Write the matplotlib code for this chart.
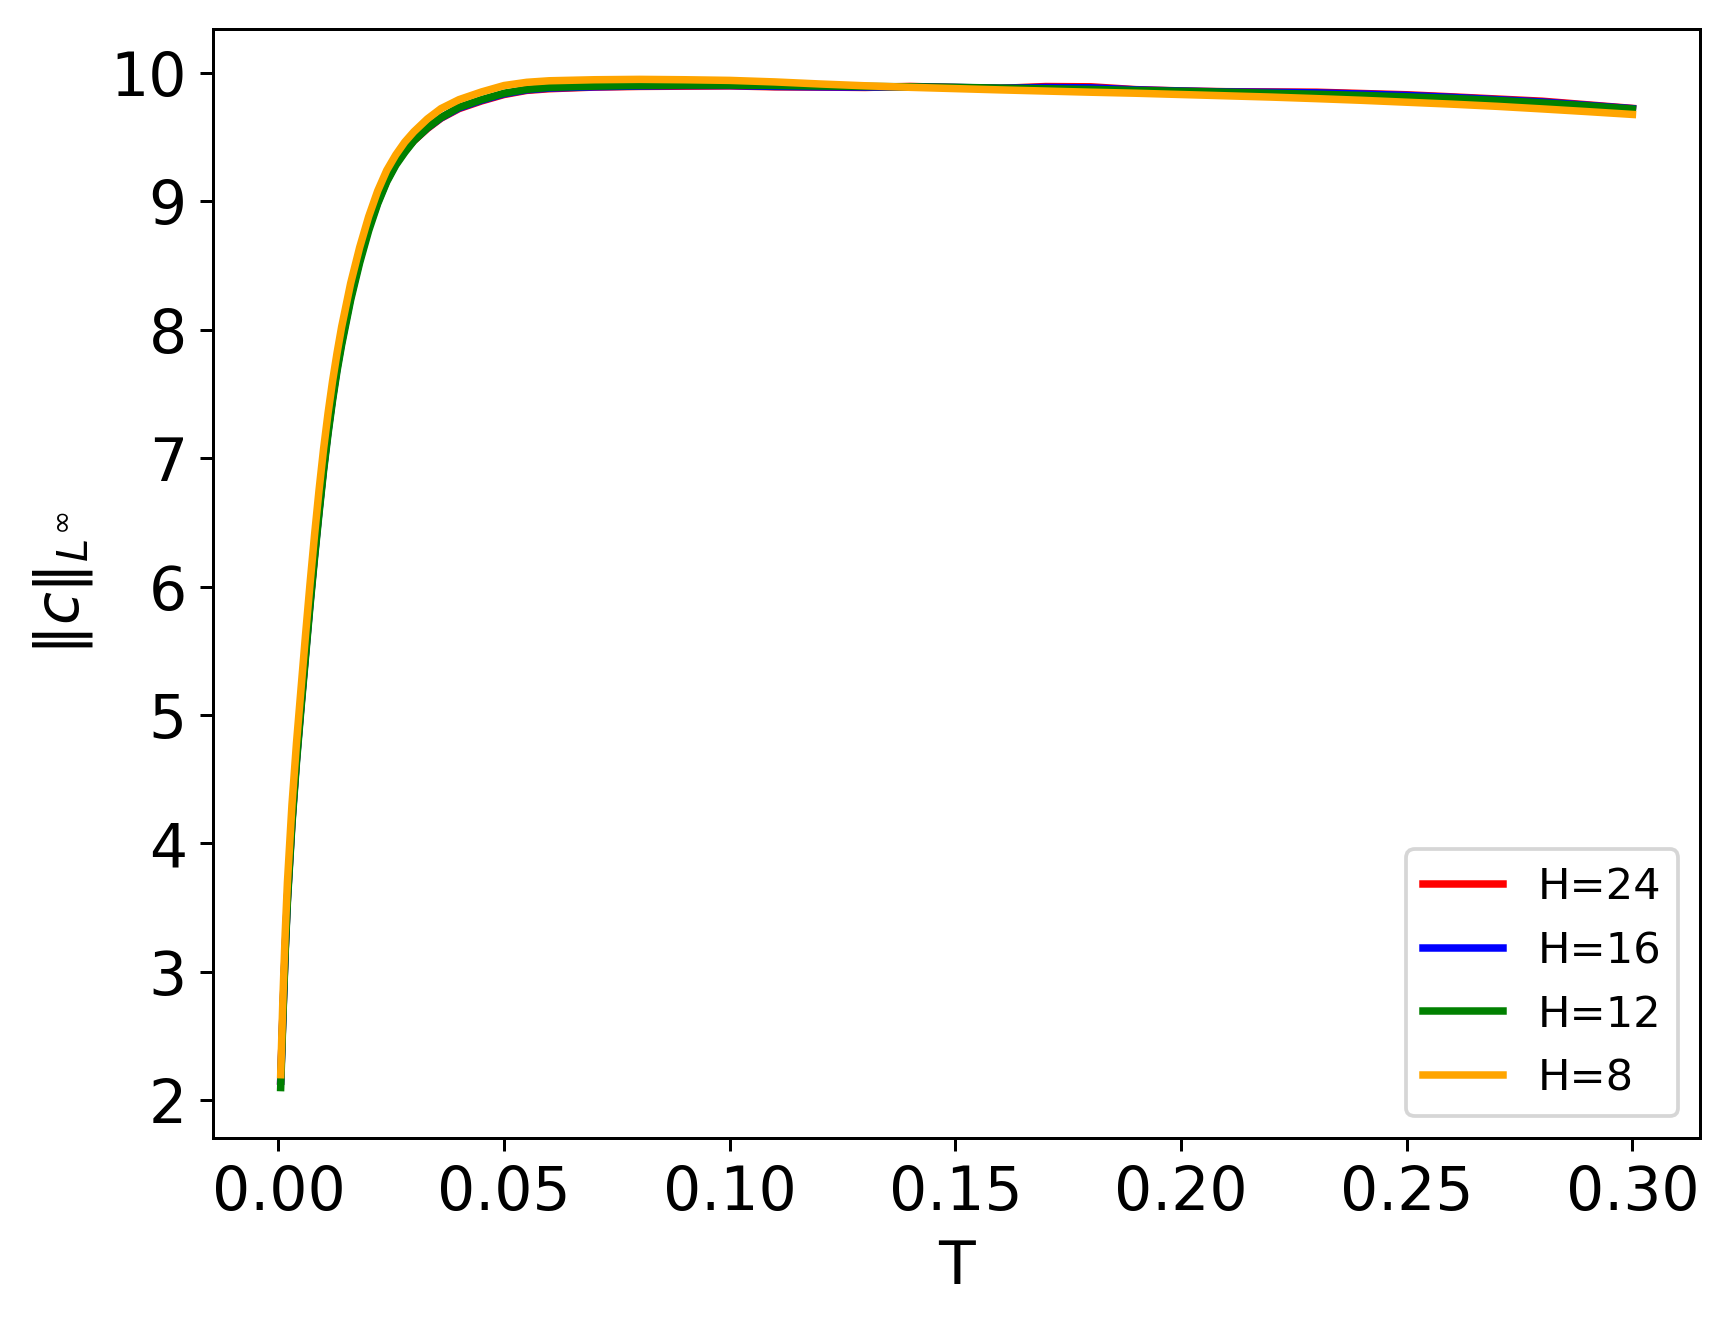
import matplotlib
matplotlib.use("Agg")
import matplotlib.pyplot as plt

T = [0.0005, 0.001, 0.0015, 0.002, 0.003, 0.004, 0.005, 0.006, 0.007, 0.008,
     0.009, 0.010, 0.011, 0.012, 0.013, 0.014, 0.016, 0.018, 0.020, 0.022,
     0.024, 0.026, 0.028, 0.030, 0.033, 0.036, 0.040, 0.045, 0.050, 0.055,
     0.06, 0.07, 0.08, 0.09, 0.10, 0.11, 0.12, 0.13, 0.14, 0.15, 0.16, 0.17,
     0.18, 0.19, 0.20, 0.21, 0.22, 0.23, 0.24, 0.25, 0.26, 0.27, 0.28, 0.29, 0.30]

H24 = [2.15, 2.68, 3.18, 3.58, 4.18, 4.66, 5.08, 5.48, 5.88, 6.25,
       6.60, 6.93, 7.22, 7.48, 7.71, 7.91, 8.26, 8.55, 8.80, 9.00,
       9.16, 9.29, 9.39, 9.47, 9.565, 9.645, 9.72, 9.78, 9.83, 9.862,
       9.875, 9.888, 9.893, 9.895, 9.897, 9.890, 9.888, 9.885, 9.893, 9.884, 9.878, 9.892,
       9.890, 9.868, 9.858, 9.852, 9.850, 9.848, 9.838, 9.828, 9.812, 9.795, 9.778, 9.750, 9.722]

H16 = [2.15, 2.67, 3.17, 3.57, 4.17, 4.65, 5.07, 5.47, 5.87, 6.24,
       6.59, 6.92, 7.21, 7.47, 7.70, 7.90, 8.25, 8.54, 8.79, 8.99,
       9.16, 9.29, 9.39, 9.475, 9.57, 9.648, 9.725, 9.785, 9.835, 9.866,
       9.880, 9.890, 9.896, 9.900, 9.900, 9.893, 9.890, 9.888, 9.890, 9.885, 9.879, 9.885,
       9.882, 9.866, 9.857, 9.850, 9.847, 9.843, 9.834, 9.823, 9.808, 9.790, 9.772, 9.746, 9.720]

H12 = [2.10, 2.65, 3.15, 3.55, 4.15, 4.63, 5.05, 5.45, 5.85, 6.22,
       6.57, 6.90, 7.19, 7.45, 7.68, 7.88, 8.23, 8.52, 8.77, 8.98,
       9.15, 9.28, 9.38, 9.47, 9.57, 9.65, 9.73, 9.79, 9.84, 9.87,
       9.885, 9.895, 9.900, 9.903, 9.903, 9.900, 9.896, 9.893, 9.890, 9.886, 9.880, 9.875,
       9.870, 9.862, 9.855, 9.848, 9.840, 9.832, 9.823, 9.812, 9.800, 9.784, 9.765, 9.742, 9.717]

H8 = [2.20, 2.80, 3.30, 3.70, 4.30, 4.78, 5.20, 5.62, 6.02, 6.40,
      6.75, 7.07, 7.35, 7.60, 7.82, 8.02, 8.36, 8.64, 8.88, 9.08,
      9.24, 9.36, 9.46, 9.54, 9.64, 9.72, 9.79, 9.85, 9.90, 9.925,
      9.937, 9.945, 9.948, 9.945, 9.940, 9.928, 9.912, 9.898, 9.886, 9.876, 9.866, 9.857,
      9.848, 9.840, 9.830, 9.820, 9.810, 9.798, 9.785, 9.770, 9.755, 9.738, 9.718, 9.697, 9.675]

series = [("H=24", H24, "red"), ("H=16", H16, "blue"),
          ("H=12", H12, "green"), ("H=8", H8, "orange")]

fig = plt.figure(figsize=(1731 / 270, 1328 / 270), dpi=270)
ax = fig.add_axes([0.1231, 0.1431, 0.8590, 0.8351])
for label, vals, color in series:
    ax.plot(T, vals, color=color, lw=2, label=label)

ax.set_xticks([0.00, 0.05, 0.10, 0.15, 0.20, 0.25, 0.30])
ax.set_yticks([2, 3, 4, 5, 6, 7, 8, 9, 10])
ax.tick_params(labelsize=16)
ax.set_xlabel("T", fontsize=16)
ax.set_ylabel(r"$\|c\|_{L^{\infty}}$", fontsize=16)
ax.legend(loc="lower right", fontsize=11.5, handlelength=1.85)

fig.savefig("out.png", dpi=270)
